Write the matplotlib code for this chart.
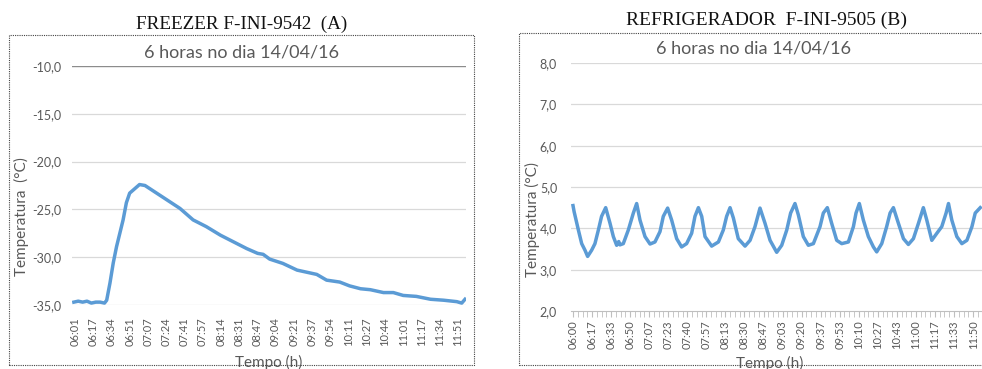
import matplotlib.pyplot as plt
from matplotlib.patches import Rectangle

# Freezer (A): minutes after 06:00 and temperature
freezer_min = [0, 4, 8, 12, 16, 20, 24, 28, 30, 33, 36, 39, 42, 45, 48, 51, 56, 60, 65,
               73, 85, 97, 109, 121, 134, 146, 158, 168, 173, 179, 191, 204, 222, 231,
               243, 252, 262, 271, 283, 292, 301, 313, 326, 338, 350, 354.5, 357.5]
freezer_temp = [-34.7, -34.6, -34.7, -34.6, -34.8, -34.7, -34.7, -34.8, -34.5, -32.7,
                -30.6, -28.9, -27.5, -26.1, -24.3, -23.3, -22.8, -22.4, -22.5, -23.1,
                -24.0, -24.9, -26.1, -26.8, -27.7, -28.4, -29.1, -29.6, -29.7, -30.2,
                -30.65, -31.35, -31.8, -32.4, -32.6, -33.0, -33.3, -33.4, -33.7, -33.7,
                -34.0, -34.1, -34.4, -34.5, -34.65, -34.8, -34.4]

# Refrigerador (B)
fridge_min = [0, 1, 4.7, 7.6, 10.5, 12.8, 16.3, 19.2, 22.2, 25, 28.6, 32.4, 35.3, 38.2,
              40, 41.1, 44, 48.4, 52.8, 55.7, 58.6, 63, 67.4, 71.7, 76.1, 79, 82.8, 86.3,
              90.7, 95, 99.4, 103.8, 106.7, 109.7, 112.6, 115.5, 121.3, 127.2, 131.5,
              134.4, 137.4, 140.3, 144.6, 150.5, 154.9, 159.2, 163.6, 168, 172.4, 178.2,
              182.6, 187, 190.4, 194.2, 197.1, 201.5, 205.9, 210.3, 216.1, 219, 222.5,
              226.3, 230.7, 235.1, 240.9, 245.3, 247.6, 250.5, 254, 258.4, 262.8, 265.7,
              270.1, 274.4, 277.4, 280.3, 284.7, 289.1, 293.4, 297.8, 302.2, 306.5,
              309.5, 313.9, 318.3, 322.6, 326.4, 328.5, 331.4, 335.8, 340.2, 344.6, 349,
              351.9, 356.3]
fridge_temp = [4.55, 4.4, 3.96, 3.63, 3.47, 3.32, 3.47, 3.63, 3.96, 4.29, 4.5, 4.12, 3.8,
               3.59, 3.68, 3.6, 3.63, 3.96, 4.37, 4.6, 4.2, 3.8, 3.62, 3.67, 3.92, 4.29,
               4.49, 4.2, 3.75, 3.55, 3.63, 3.88, 4.29, 4.5, 4.29, 3.8, 3.57, 3.67, 3.96,
               4.29, 4.5, 4.25, 3.75, 3.57, 3.71, 4.04, 4.49, 4.12, 3.71, 3.42, 3.59, 3.96,
               4.37, 4.6, 4.33, 3.8, 3.59, 3.63, 4.04, 4.37, 4.5, 4.12, 3.71, 3.63, 3.67,
               4.04, 4.37, 4.6, 4.2, 3.8, 3.55, 3.43, 3.63, 4.04, 4.37, 4.5, 4.12, 3.75,
               3.61, 3.75, 4.12, 4.5, 4.2, 3.71, 3.88, 4.04, 4.37, 4.6, 4.2, 3.8, 3.63,
               3.71, 4.04, 4.37, 4.5]

freezer_labels = ["06:01", "06:17", "06:34", "06:51", "07:07", "07:24", "07:41", "07:57",
                  "08:14", "08:31", "08:47", "09:04", "09:21", "09:37", "09:54", "10:11",
                  "10:27", "10:44", "11:01", "11:17", "11:34", "11:51"]
fridge_labels = ["06:00", "06:17", "06:33", "06:50", "07:07", "07:23", "07:40", "07:57",
                 "08:13", "08:30", "08:47", "09:03", "09:20", "09:37", "09:53", "10:10",
                 "10:27", "10:43", "11:00", "11:17", "11:33", "11:50"]

plt.rcParams['font.family'] = ['Lato', 'DejaVu Sans']
txt = '#595959'
blue = '#5b9bd5'
grid = '#d9d9d9'
step = 350 / 21

fig = plt.figure(figsize=(9.82, 3.69), dpi=100)
W, H = 982, 369

def fx(px):
    return px / W

def fy(py):
    return 1 - py / H

# dotted frames round both charts
fig.patches.append(Rectangle((fx(9), fy(365)), fx(474 - 9), (365 - 35) / H,
                             transform=fig.transFigure, fill=False, ec='#444444',
                             lw=0.8, ls=(0, (1, 1))))
fig.patches.append(Rectangle((fx(519), fy(365)), fx(470), (365 - 33) / H,
                             transform=fig.transFigure, fill=False, ec='#444444',
                             lw=0.8, ls=(0, (1, 1))))

# ---- freezer ----
ax1 = fig.add_axes([fx(72), fy(305), fx(466 - 72), (305 - 66) / H])
ax1.plot(freezer_min, freezer_temp, color=blue, lw=2.5)
ax1.set_xlim(-1.7, 358.4)
ax1.set_ylim(-35, -10)
ax1.set_yticks([-35, -30, -25, -20, -15, -10])
ax1.set_yticklabels(['-35,0', '-30,0', '-25,0', '-20,0', '-15,0', '-10,0'])
ax1.set_xticks([1 + i * step for i in range(len(freezer_labels))])
ax1.set_xticklabels(freezer_labels, rotation=90)
for s in ax1.spines.values():
    s.set_visible(False)
for v in [-35, -30, -25, -20, -15]:
    ax1.axhline(v, color=grid, lw=0.9, zorder=0)
ax1.axhline(-10, color='#8c8c8c', lw=1.0, zorder=0)
ax1.tick_params(axis='y', length=0, pad=8, labelsize=9, labelcolor=txt)
ax1.tick_params(axis='x', length=0, pad=9, labelsize=8, labelcolor=txt)
ax1.set_xlabel('Tempo (h)', fontsize=11, color=txt)
ax1.xaxis.set_label_coords(0.5, -0.21)
ax1.set_ylabel('Temperatura  (°C)', fontsize=11, color=txt)
ax1.yaxis.set_label_coords(-0.109, 0.37)

# ---- refrigerador ----
ax2 = fig.add_axes([fx(571), fy(311), fx(984.5 - 571), (311 - 63) / H])
ax2.plot(fridge_min, fridge_temp, color=blue, lw=2.5)
ax2.set_xlim(-1.75, 360)
ax2.set_ylim(2, 8)
ax2.set_yticks([2, 3, 4, 5, 6, 7, 8])
ax2.set_yticklabels(['2,0', '3,0', '4,0', '5,0', '6,0', '7,0', '8,0'])
ax2.set_xticks([i * step for i in range(len(fridge_labels))])
ax2.set_xticks([i * step / 4 for i in range(4 * 21 + 2)], minor=True)
ax2.set_xticklabels(fridge_labels, rotation=90)
for k, s in ax2.spines.items():
    s.set_visible(k == 'bottom')
ax2.spines['bottom'].set_color('#bfbfbf')
for v in [3, 4, 5, 6, 7, 8]:
    ax2.axhline(v, color=grid, lw=0.9, zorder=0)
ax2.tick_params(axis='y', length=0, pad=10, labelsize=9, labelcolor=txt)
ax2.tick_params(axis='x', which='both', length=4, color='#bfbfbf', pad=3,
                labelsize=8, labelcolor=txt)
ax2.set_xlabel('Tempo (h)', fontsize=11, color=txt)
ax2.xaxis.set_label_coords(0.5 - 0.02, -0.18)
ax2.set_ylabel('Temperatura (°C)', fontsize=11, color=txt)
ax2.yaxis.set_label_coords(-0.075, 0.37)

# titles
fig.text(fx(242), fy(24), 'FREEZER F-INI-9542  (A)', ha='center', va='center',
         fontsize=13.8, family='Liberation Serif', color='#111111')
fig.text(fx(767), fy(20), 'REFRIGERADOR  F-INI-9505 (B)', ha='center', va='center',
         fontsize=14, family='Liberation Serif', color='#111111')
fig.text(fx(242), fy(53), '6 horas no dia 14/04/16', ha='center', va='center',
         fontsize=13, color=txt)
fig.text(fx(753), fy(48), '6 horas no dia 14/04/16', ha='center', va='center',
         fontsize=13, color=txt)

fig.savefig('out.png', dpi=100)
